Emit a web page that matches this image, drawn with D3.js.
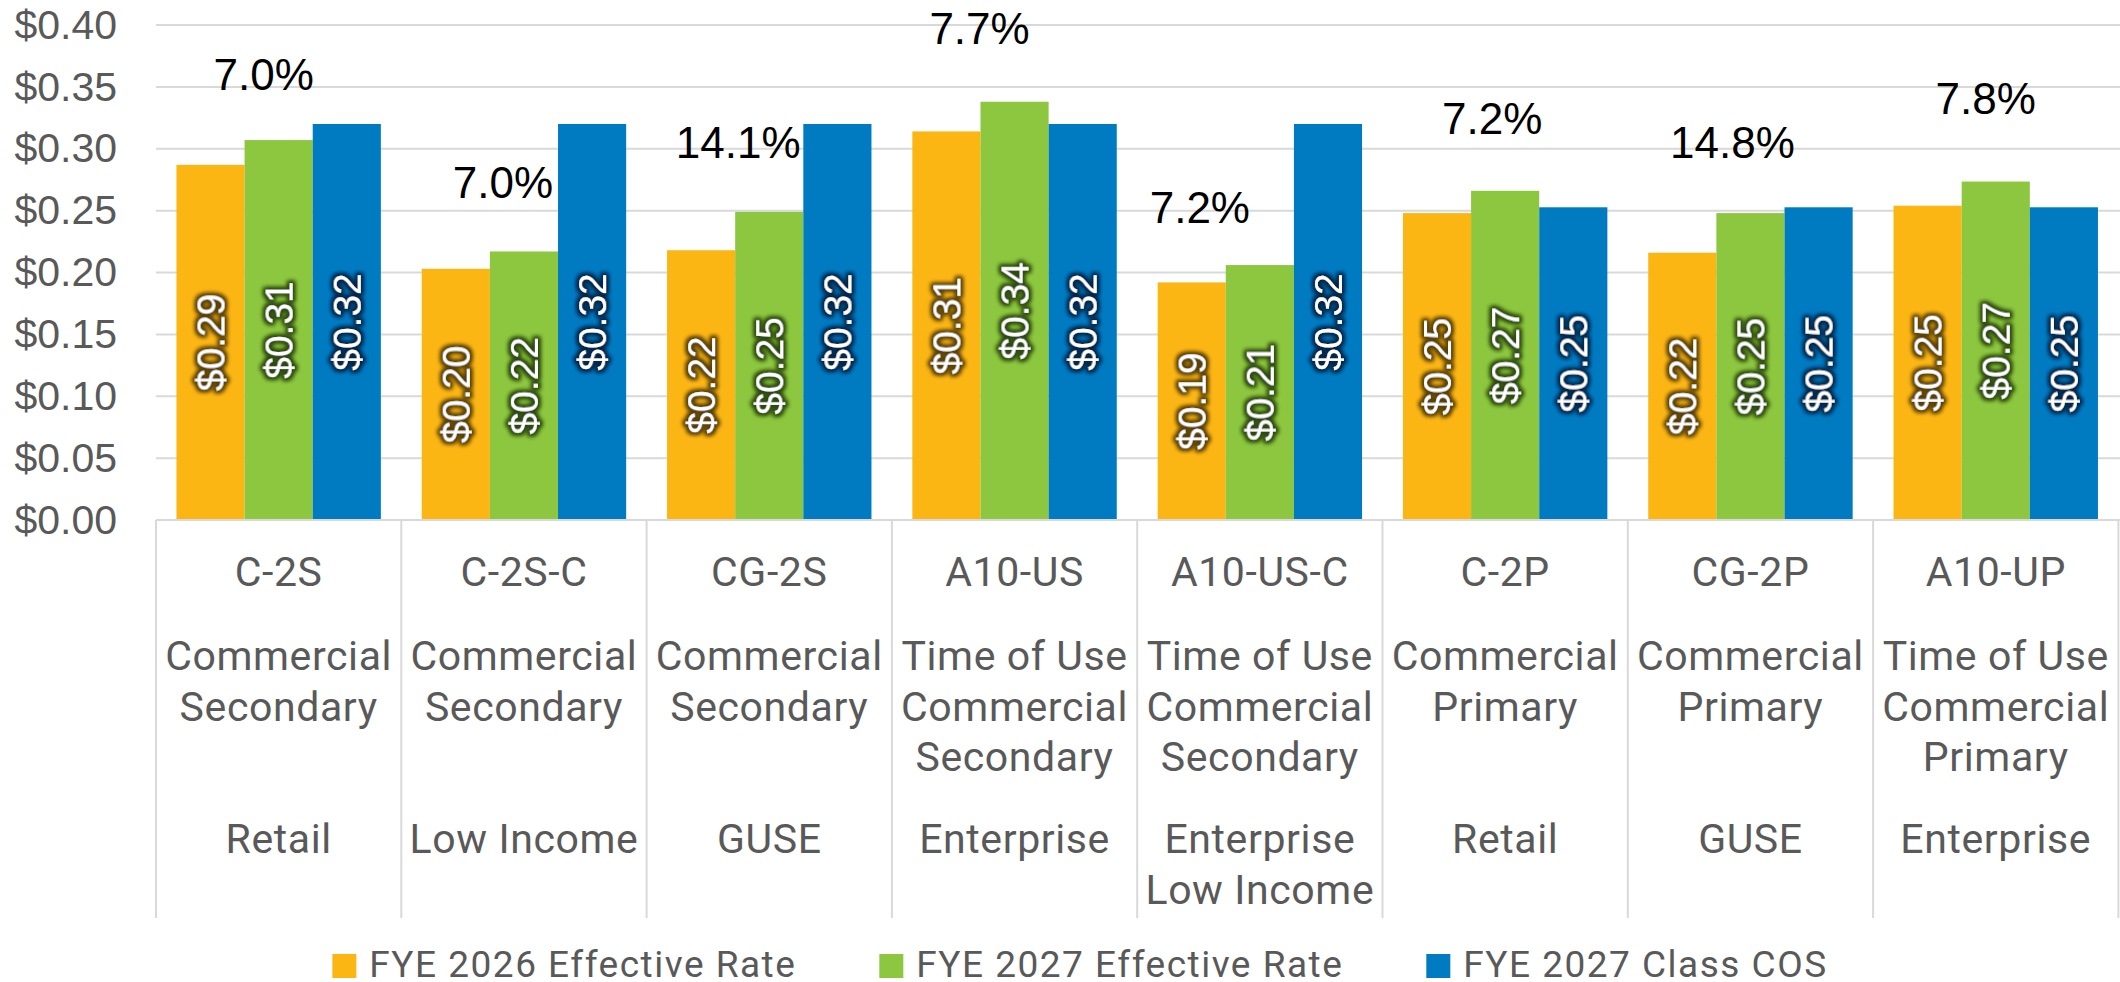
<!DOCTYPE html>
<html>
<head>
<meta charset="utf-8">
<script src="https://cdn.jsdelivr.net/npm/d3@7"></script>
<style>
  html, body { margin: 0; padding: 0; background: #fff; }
  svg { display: block; }
</style>
</head>
<body>
<div id="chart"></div>
<script>
var categories = ["C-2S", "C-2S-C", "CG-2S", "A10-US", "A10-US-C", "C-2P", "CG-2P", "A10-UP"];
var descriptions = [
  ["Commercial", "Secondary"],
  ["Commercial", "Secondary"],
  ["Commercial", "Secondary"],
  ["Time of Use", "Commercial", "Secondary"],
  ["Time of Use", "Commercial", "Secondary"],
  ["Commercial", "Primary"],
  ["Commercial", "Primary"],
  ["Time of Use", "Commercial", "Primary"]
];
var segments = [["Retail"], ["Low Income"], ["GUSE"], ["Enterprise"], ["Enterprise", "Low Income"], ["Retail"], ["GUSE"], ["Enterprise"]];

var seriesNames = ["FYE 2026 Effective Rate", "FYE 2027 Effective Rate", "FYE 2027 Class COS"];
var fye2026 = [0.287, 0.203, 0.218, 0.314, 0.192, 0.248, 0.216, 0.254];
var fye2027 = [0.307, 0.217, 0.249, 0.338, 0.206, 0.266, 0.248, 0.2735];
var classCos = [0.320, 0.320, 0.320, 0.320, 0.320, 0.2527, 0.2527, 0.2527];

// % change labels and the rate level they sit on
var pctLabels = ["7.0%", "7.0%", "14.1%", "7.7%", "7.2%", "7.2%", "14.8%", "7.8%"];
var pctLevel = [0.3475, 0.260, 0.2925, 0.3846, 0.240, 0.312, 0.2928, 0.3284];

var yTicks = [0, 0.05, 0.10, 0.15, 0.20, 0.25, 0.30, 0.35, 0.40];

var width = 2120, height = 982,
    plotLeft = 156, plotRight = 2118.4, plotTop = 25, plotBase = 520,
    colors = ["#FCB614", "#8DC63F", "#007BC2"],
    glows = ["#5a4100", "#2c4a0c", "#00294d"],
    grid = "#D9D9D9",
    textGrey = "#595959",
    catFont = "Roboto, 'Liberation Sans', sans-serif",
    numFont = "'Liberation Sans', Arial, sans-serif";

// manual nudges of the % labels, as they were dragged in the original
var pctNudge = [-15, -21, -31, -35, -60, -13, -18, -10];

var series = [fye2026, fye2027, classCos];

var svg = d3.select("#chart").append("svg")
  .attr("width", width)
  .attr("height", height);

var defs = svg.append("defs");
glows.forEach(function(c, i) {
  var f = defs.append("filter")
    .attr("id", "glow" + i)
    .attr("x", "-30%").attr("y", "-30%")
    .attr("width", "160%").attr("height", "160%");
  f.append("feMorphology").attr("in", "SourceAlpha").attr("operator", "dilate").attr("radius", 1.6).attr("result", "d");
  f.append("feGaussianBlur").attr("in", "d").attr("stdDeviation", 2.2).attr("result", "b");
  f.append("feFlood").attr("flood-color", c).attr("flood-opacity", 1);
  f.append("feComposite").attr("in2", "b").attr("operator", "in").attr("result", "g");
  var m = f.append("feMerge");
  m.append("feMergeNode").attr("in", "g");
  m.append("feMergeNode").attr("in", "g");
  m.append("feMergeNode").attr("in", "SourceGraphic");
});

var x = d3.scaleBand().domain(categories).range([plotLeft, plotRight]).paddingInner(0).paddingOuter(0);
var xs = d3.scaleBand().domain([0, 1, 2]).range([0, x.bandwidth()]).paddingInner(0).paddingOuter(0.3);
var y = d3.scaleLinear().domain([0, 0.4]).range([plotBase, plotTop]);

// gridlines
svg.append("g")
  .selectAll("line")
  .data(yTicks.slice(1))
  .join("line")
  .attr("x1", plotLeft).attr("x2", width)
  .attr("y1", function(d) { return y(d); })
  .attr("y2", function(d) { return y(d); })
  .attr("stroke", grid)
  .attr("stroke-width", 2);

// y axis labels
var yAxis = svg.append("g")
  .attr("transform", "translate(117,0)")
  .call(d3.axisLeft(y).tickValues(yTicks).tickFormat(d3.format("$.2f")).tickSize(0).tickPadding(0));
yAxis.select(".domain").remove();
yAxis.selectAll("text")
  .attr("font-family", numFont)
  .attr("font-size", 41)
  .attr("fill", textGrey);

// bars
var groups = svg.append("g")
  .selectAll("g")
  .data(categories)
  .join("g")
  .attr("transform", function(d) { return "translate(" + x(d) + ",0)"; });

function cells(d, i) {
  return series.map(function(s, k) { return { k: k, v: s[i] }; });
}

groups.selectAll("rect")
  .data(cells)
  .join("rect")
  .attr("x", function(d) { return xs(d.k); })
  .attr("width", xs.bandwidth())
  .attr("y", function(d) { return y(d.v); })
  .attr("height", function(d) { return plotBase - y(d.v); })
  .attr("fill", function(d) { return colors[d.k]; });

// value labels, rotated, centred in bar
groups.selectAll("text.val")
  .data(cells)
  .join("text")
  .attr("class", "val")
  .attr("transform", function(d) {
    var cx = xs(d.k) + xs.bandwidth() / 2,
        cy = (y(d.v) + plotBase) / 2;
    return "translate(" + cx + "," + cy + ") rotate(-90)";
  })
  .attr("text-anchor", "middle")
  .attr("dy", "0.36em")
  .attr("font-family", numFont)
  .attr("font-size", 39)
  .attr("fill", "#fff")
  .attr("filter", function(d) { return "url(#glow" + d.k + ")"; })
  .text(function(d) { return d3.format("$.2f")(d.v); });

// % change labels
svg.append("g")
  .selectAll("text")
  .data(categories)
  .join("text")
  .attr("x", function(d, i) { return x(d) + x.bandwidth() / 2 + pctNudge[i]; })
  .attr("y", function(d, i) { return y(pctLevel[i]); })
  .attr("text-anchor", "middle")
  .attr("font-family", numFont)
  .attr("font-size", 44)
  .attr("fill", "#000")
  .text(function(d, i) { return pctLabels[i]; });

// category axis: baseline + separators
svg.append("line")
  .attr("x1", plotLeft).attr("x2", width)
  .attr("y1", plotBase).attr("y2", plotBase)
  .attr("stroke", grid).attr("stroke-width", 2);

var edges = categories.map(function(d) { return x(d); }).concat([plotRight]);
svg.append("g")
  .selectAll("line")
  .data(edges)
  .join("line")
  .attr("x1", function(d) { return d; }).attr("x2", function(d) { return d; })
  .attr("y1", plotBase).attr("y2", 918)
  .attr("stroke", grid).attr("stroke-width", 2);

// category labels: code / description / segment rows
var rowBase = [586, 670, 853], lineH = 50.5;
var cats = svg.append("g")
  .selectAll("text")
  .data(categories)
  .join("text")
  .attr("text-anchor", "middle")
  .attr("font-family", catFont)
  .attr("font-size", 41)
  .attr("letter-spacing", 0.6)
  .attr("fill", textGrey);

cats.each(function(d, i) {
  var t = d3.select(this),
      cx = x(d) + x.bandwidth() / 2,
      rows = [[d], descriptions[i], segments[i]];
  rows.forEach(function(lines, r) {
    lines.forEach(function(line, j) {
      t.append("tspan")
        .attr("x", cx)
        .attr("y", rowBase[r] + j * lineH)
        .text(line);
    });
  });
});

// legend
var legend = svg.append("g");
var items = legend.selectAll("g")
  .data(seriesNames)
  .join("g");
items.append("rect")
  .attr("width", 24).attr("height", 24)
  .attr("y", 954)
  .attr("fill", function(d, i) { return colors[i]; });
items.append("text")
  .attr("x", 37)
  .attr("y", 977)
  .attr("font-family", catFont)
  .attr("font-size", 37)
  .attr("letter-spacing", 1.5)
  .attr("fill", textGrey)
  .text(function(d) { return d; });

var offs = [], pos = 0;
items.each(function(d, i) {
  var w = this.querySelector("text").getComputedTextLength();
  offs.push(pos);
  pos += 37 + w + 83;
});
var total = pos - 83, start = 1080 - total / 2;
items.attr("transform", function(d, i) { return "translate(" + (start + offs[i]) + ",0)"; });
</script>
</body>
</html>
